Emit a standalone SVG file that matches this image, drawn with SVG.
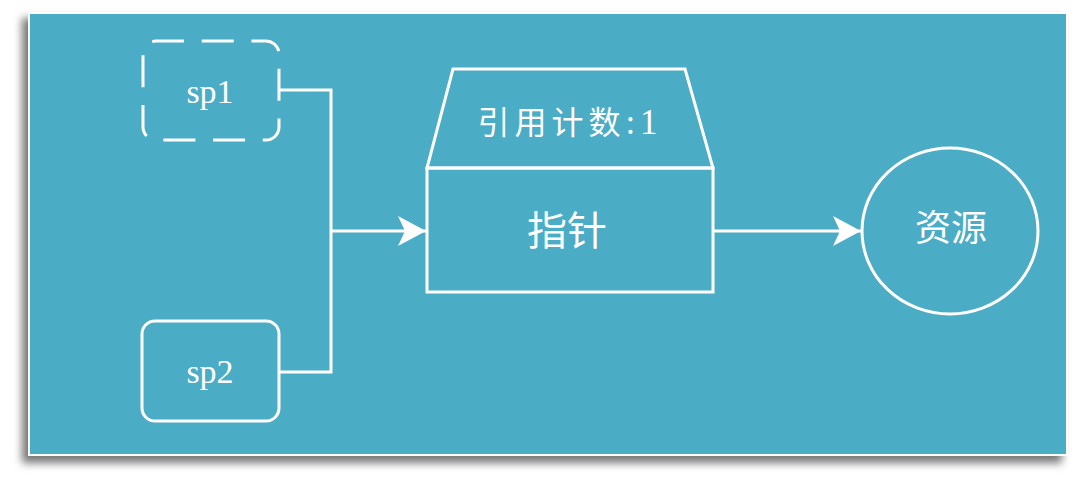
<svg xmlns="http://www.w3.org/2000/svg" width="1080" height="482" viewBox="0 0 1080 482">
<defs>
<filter id="sh" x="-5%" y="-5%" width="110%" height="115%">
<feGaussianBlur stdDeviation="4"/>
</filter>
<marker id="arr" markerUnits="userSpaceOnUse" markerWidth="30" markerHeight="32" refX="28" refY="15" orient="auto" viewBox="0 0 30 30">
<path d="M0,0 L28,15 L0,30 L7,15 z" fill="#ffffff"/>
</marker>
</defs>
<style>
.ln{fill:none;stroke:#ffffff;stroke-width:3}
.shape{fill:none;stroke:#ffffff;stroke-width:3}
.lat{font-family:"Liberation Serif","Times New Roman",serif;fill:#ffffff;text-anchor:middle}
.cjk{font-family:"Liberation Serif","Noto Sans CJK SC",sans-serif;fill:#ffffff;text-anchor:middle}
</style>
<rect x="0" y="0" width="1080" height="482" fill="#ffffff"/>
<rect x="22" y="18" width="1040" height="445" fill="#777777" filter="url(#sh)"/>
<rect x="29" y="13" width="1038" height="442" fill="#4BACC6" stroke="#ffffff" stroke-width="2"/>
<g id="connectors">
<polyline class="ln" points="279,90 331,90 331,372 279,372"/>
<line class="ln" x1="331" y1="231" x2="426" y2="231" marker-end="url(#arr)"/>
<line class="ln" x1="713" y1="231" x2="861" y2="231" marker-end="url(#arr)"/>
</g>
<g id="sp1">
<rect class="shape" x="143" y="41" width="136" height="99" rx="13" stroke-dasharray="32 17.7" stroke-dashoffset="4"/>
<text class="lat" x="210" y="103" font-size="34">sp1</text>
</g>
<g id="sp2">
<rect class="shape" x="142" y="321" width="137" height="100" rx="13"/>
<text class="lat" x="210" y="383" font-size="34">sp2</text>
</g>
<g id="pointer">
<polygon class="shape" points="453,69 685,69 713,168 427,168"/>
<rect class="shape" x="427" y="168" width="286" height="124"/>
<text class="cjk" x="570" y="134" font-size="32" letter-spacing="5">引用计数<tspan font-size="35">:1</tspan></text>
<text class="cjk" x="567" y="245" font-size="40">指针</text>
</g>
<g id="resource">
<ellipse class="shape" cx="950" cy="231" rx="88" ry="83"/>
<text class="cjk" x="951" y="241" font-size="36">资源</text>
</g>
</svg>
